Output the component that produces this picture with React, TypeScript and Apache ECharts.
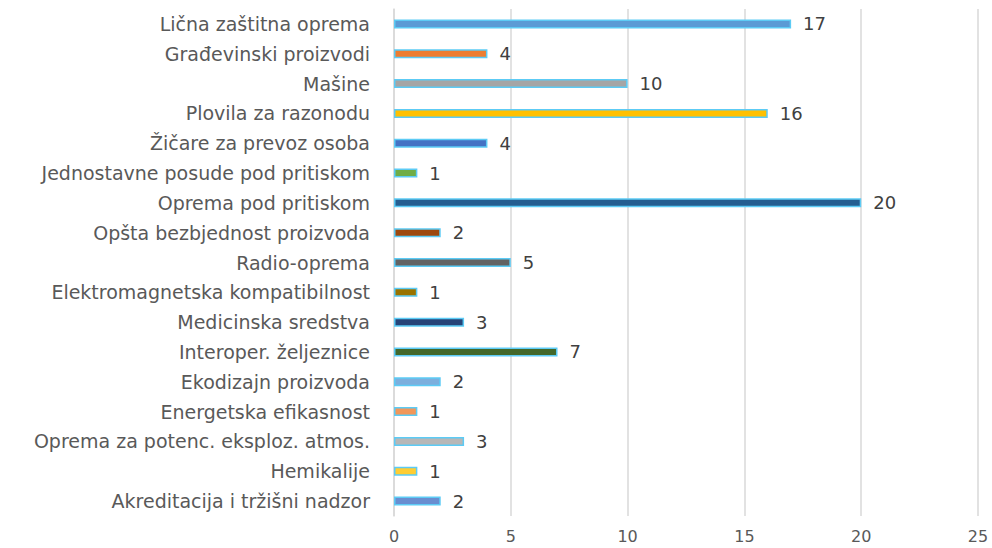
import React, { useEffect, useRef } from "react";
import * as echarts from "echarts";

const categories = [
  "Lična zaštitna oprema",
  "Građevinski proizvodi",
  "Mašine",
  "Plovila za razonodu",
  "Žičare za prevoz osoba",
  "Jednostavne posude pod pritiskom",
  "Oprema pod pritiskom",
  "Opšta bezbjednost proizvoda",
  "Radio-oprema",
  "Elektromagnetska kompatibilnost",
  "Medicinska sredstva",
  "Interoper. željeznice",
  "Ekodizajn proizvoda",
  "Energetska efikasnost",
  "Oprema za potenc. eksploz. atmos.",
  "Hemikalije",
  "Akreditacija i tržišni nadzor",
];

const values = [17, 4, 10, 16, 4, 1, 20, 2, 5, 1, 3, 7, 2, 1, 3, 1, 2];

const barColors = [
  "#5b9bd5", "#ed7d31", "#a5a5a5", "#ffc000", "#4472c4", "#70ad47",
  "#255e91", "#9e480e", "#636363", "#997300", "#264478", "#43682b",
  "#7cafdd", "#f1975a", "#b7b7b7", "#ffcd33", "#698ed0",
];

const xTicks = [0, 5, 10, 15, 20, 25];

export default function App() {
  const ref = useRef<HTMLDivElement>(null);
  useEffect(() => {
    if (!ref.current) return;
    const chart = echarts.init(ref.current, undefined, { renderer: "svg" });
    const font = "'DejaVu Sans', sans-serif";
    chart.setOption({
      animation: false,
      grid: { left: 394, right: 14, top: 9, bottom: 32, containLabel: false },
      xAxis: {
        type: "value",
        min: xTicks[0],
        max: xTicks[xTicks.length - 1],
        interval: 5,
        axisLine: { show: false },
        axisTick: { show: false },
        splitLine: { show: true, lineStyle: { color: "#d9d9d9", width: 1.5 } },
        axisLabel: { color: "#595959", fontSize: 16, fontFamily: font, margin: 12 },
      },
      yAxis: {
        type: "category",
        data: categories,
        inverse: true,
        axisLine: { show: true, lineStyle: { color: "#d9d9d9", width: 1.5 } },
        axisTick: { show: false },
        axisLabel: { color: "#595959", fontSize: 19, fontFamily: font, margin: 24 },
      },
      series: [
        {
          type: "bar",
          barWidth: 9,
          data: values.map((v, i) => ({
            value: v,
            itemStyle: { color: barColors[i], borderColor: "#5ccbf5", borderWidth: 1.5 },
          })),
          label: {
            show: true,
            position: "right",
            distance: 12,
            color: "#404040",
            fontSize: 18,
            fontFamily: font,
          },
        },
      ],
    });
    return () => chart.dispose();
  }, []);
  return <div ref={ref} style={{ width: 992, height: 548, position: "absolute", left: 0, top: 0 }} />;
}
